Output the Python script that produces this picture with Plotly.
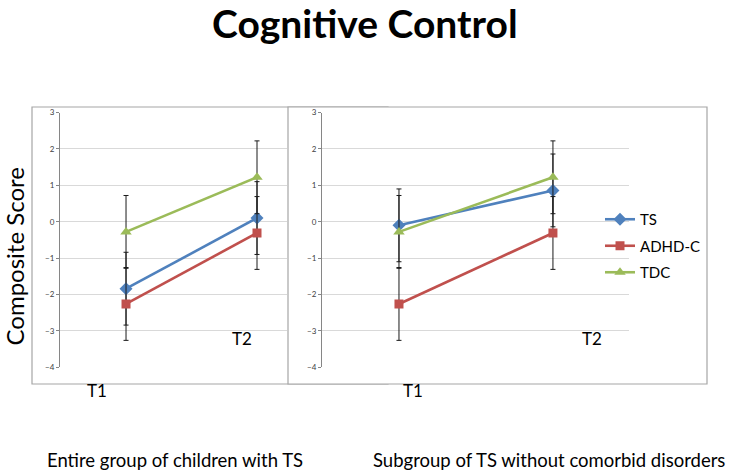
import plotly.graph_objects as go

W, H = 729, 471

categories = ["T1", "T2"]
series_names = ["TS", "ADHD-C", "TDC"]
series_colors = ["#4F81BD", "#C0504D", "#9BBB59"]
series_symbols = ["diamond", "square", "triangle-up"]
marker_sizes = [10, 9, 10]

left_ts = [-1.84, 0.10]
left_adhd = [-2.26, -0.31]
left_tdc = [-0.28, 1.22]

right_ts = [-0.10, 0.86]
right_adhd = [-2.26, -0.31]
right_tdc = [-0.28, 1.22]

sd_ts = [1.0, 1.0]
sd_adhd = [1.0, 1.0]
sd_tdc = [1.0, 1.0]

y_ticks = [3, 2, 1, 0, -1, -2, -3, -4]

title_text = "Cognitive Control"
y_title = "Composite Score"
panel_labels = ["Entire group of children with TS", "Subgroup of TS without comorbid disorders"]

FONT = "Lato"


def px(x):
    return x / W


def py(y):
    return 1 - y / H


fig = go.Figure()

left_vals = [left_ts, left_adhd, left_tdc]
right_vals = [right_ts, right_adhd, right_tdc]
sds = [sd_ts, sd_adhd, sd_tdc]

for panel, vals in enumerate([left_vals, right_vals]):
    xa = "x" if panel == 0 else "x2"
    ya = "y" if panel == 0 else "y2"
    for i, name in enumerate(series_names):
        fig.add_trace(go.Scatter(
            x=categories, y=vals[i], name=name, mode="lines+markers",
            xaxis=xa, yaxis=ya,
            line=dict(color=series_colors[i], width=2.6),
            marker=dict(symbol=series_symbols[i], size=marker_sizes[i],
                        color=series_colors[i]),
            error_y=dict(type="data", array=sds[i], visible=True,
                         color="#1a1a1a", thickness=1, width=2.5),
            showlegend=(panel == 1), legendgroup=name,
        ))

yaxis_common = dict(
    range=[-4, 3], tickvals=y_ticks, ticks="outside", ticklen=3,
    tickcolor="#868686", showline=True, linecolor="#868686", linewidth=1,
    tickfont=dict(family=FONT, size=8, color="#404040"),
    showgrid=True, gridcolor="#d9d9d9", zeroline=False, automargin=False,
)

fig.update_layout(
    width=W, height=H,
    margin=dict(l=0, r=0, t=0, b=0, autoexpand=False),
    paper_bgcolor="white", plot_bgcolor="rgba(0,0,0,0)",
    xaxis=dict(domain=[px(60), px(287)], range=[-0.504, 1.229],
               type="category", showticklabels=False, showgrid=False,
               zeroline=False, showline=False, ticks="", anchor="y"),
    yaxis=dict(domain=[py(367.3), py(112.5)], anchor="x", **yaxis_common),
    xaxis2=dict(domain=[px(322), px(629)], range=[-0.5, 1.494],
                type="category", showticklabels=False, showgrid=False,
                zeroline=False, showline=False, ticks="", anchor="y2"),
    yaxis2=dict(domain=[py(367.3), py(112.5)], anchor="x2", **yaxis_common),
    legend=dict(x=px(600), y=py(203), xanchor="left", yanchor="top",
                font=dict(family=FONT, size=15, color="#000000"),
                bgcolor="rgba(0,0,0,0)", tracegroupgap=4, itemwidth=30),
    showlegend=True,
)

# chart-area boxes
fig.add_shape(type="rect", xref="paper", yref="paper",
              x0=px(32), x1=px(388), y0=py(384), y1=py(107),
              line=dict(color="#a6a6a6", width=1.2), fillcolor="white",
              layer="below")
fig.add_shape(type="rect", xref="paper", yref="paper",
              x0=px(288), x1=px(707), y0=py(384), y1=py(107),
              line=dict(color="#a6a6a6", width=1.2), fillcolor="white",
              layer="below")

# title
fig.add_annotation(text="<b>%s</b>" % title_text, x=px(365), y=py(23.5),
                   xref="paper", yref="paper", showarrow=False,
                   font=dict(family=FONT, size=39, color="#000000"),
                   xanchor="center", yanchor="middle")
# y title
fig.add_annotation(text=y_title, x=px(13.5), y=py(257), xref="paper", yref="paper",
                   showarrow=False, textangle=-90,
                   font=dict(family=FONT, size=24, color="#000000"),
                   xanchor="center", yanchor="middle")

# T1 / T2 labels
label_pos = [((97, 390), (242, 338)), ((413, 390), (592, 338))]
for panel in range(2):
    for k, cat in enumerate(categories):
        lx, ly = label_pos[panel][k]
        fig.add_annotation(text=cat, x=px(lx), y=py(ly), xref="paper", yref="paper",
                           showarrow=False,
                           font=dict(family=FONT, size=17, color="#000000"),
                           xanchor="center", yanchor="middle")

# bottom panel labels
for txt, cx in zip(panel_labels, [175, 549]):
    fig.add_annotation(text=txt, x=px(cx), y=py(460), xref="paper", yref="paper",
                       showarrow=False,
                       font=dict(family=FONT, size=18.5, color="#000000"),
                       xanchor="center", yanchor="middle")

fig.write_html(
    "out.html",
    config={"displayModeBar": False},
    post_script="document.body.style.margin='0';document.body.style.overflow='hidden';",
)
